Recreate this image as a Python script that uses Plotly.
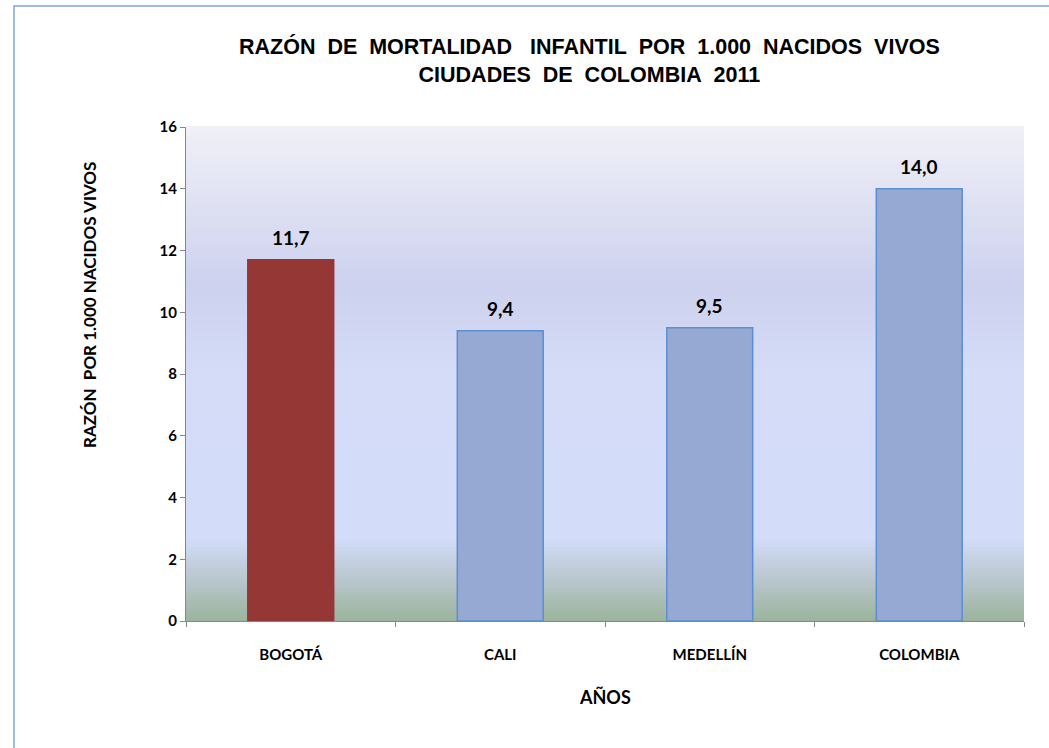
import plotly.graph_objects as go

categories = ["BOGOTÁ", "CALI", "MEDELLÍN", "COLOMBIA"]
values = [11.7, 9.4, 9.5, 14.0]
bar_colors = ["#953735", "#95A9D2", "#95A9D2", "#95A9D2"]
line_colors = ["#953735", "#5B8ED6", "#5B8ED6", "#5B8ED6"]
y_ticks = [0, 2, 4, 6, 8, 10, 12, 14, 16]

LATO = "Lato, Carlito, sans-serif"
TICK_FONT = dict(family=LATO, size=15, color="#000000", weight="bold")

fig = go.Figure()
fig.add_trace(go.Bar(
    x=categories, y=values,
    marker=dict(color=bar_colors, line=dict(color=line_colors, width=1.5)),
    width=0.41,
    hoverinfo="x+y",
))

# background gradient (decoration)
stops = [(0.0, (156, 180, 156)), (0.08, (184, 198, 204)), (0.17, (211, 221, 250)),
         (0.5, (212, 220, 248)), (0.68, (205, 209, 238)), (1.0, (240, 240, 247))]

def col_at(t):
    for (t0, c0), (t1, c1) in zip(stops[:-1], stops[1:]):
        if t0 <= t <= t1:
            f = (t - t0) / (t1 - t0) if t1 > t0 else 0
            return "rgb(%d,%d,%d)" % tuple(round(a + (b - a) * f) for a, b in zip(c0, c1))
    return "rgb(%d,%d,%d)" % stops[-1][1]

N = 120
shapes = []
for i in range(N):
    y0 = i / N
    y1 = (i + 1) / N
    shapes.append(dict(type="rect", xref="x domain", yref="y domain", x0=0, x1=1, y0=y0, y1=y1 + 0.002,
                       fillcolor=col_at((y0 + y1) / 2), line=dict(width=0), layer="below"))

W, H = 1049, 748
ml, mr, mt, mb = 186, 25, 127, 127
pw, ph = W - ml - mr, H - mt - mb

def px_x(px):
    return (px - ml) / pw

def px_y(py):
    return (H - mb - py) / ph

# outer frame
shapes.append(dict(type="rect", xref="paper", yref="paper",
                   x0=px_x(14), x1=px_x(W + 30), y0=px_y(H + 30), y1=px_y(6),
                   line=dict(color="#7FA6D8", width=1.5), fillcolor="rgba(0,0,0,0)", layer="below"))

annotations = [
    dict(x=c, y=v, text=f"{v:.1f}".replace(".", ","), xref="x", yref="y", yanchor="bottom",
         yshift=9, showarrow=False, font=dict(family=LATO, size=19, color="#000000", weight="bold"))
    for c, v in zip(categories, values)
]
annotations += [
    dict(text="RAZÓN  POR 1.000 NACIDOS VIVOS", textangle=-90, xref="paper", yref="paper",
         x=px_x(89), y=px_y(305), xanchor="center", yanchor="middle", showarrow=False,
         font=dict(family=LATO, size=17, color="#000000", weight="bold")),
    dict(text="AÑOS", xref="paper", yref="paper", x=px_x(605), y=px_y(697),
         xanchor="center", yanchor="middle",
         showarrow=False, font=dict(family=LATO, size=18, color="#000000", weight="bold")),
    dict(text="RAZÓN&nbsp; DE&nbsp; MORTALIDAD&nbsp;&nbsp; INFANTIL&nbsp; POR&nbsp; 1.000&nbsp; NACIDOS&nbsp; VIVOS<br>"
              "CIUDADES&nbsp; DE&nbsp; COLOMBIA&nbsp; 2011",
         xref="paper", yref="paper", x=px_x(589), y=px_y(60), xanchor="center", yanchor="middle",
         showarrow=False,
         font=dict(family="Liberation Sans, Arial, sans-serif", size=21.5, color="#000000", weight="bold")),
]

fig.update_layout(
    width=W, height=H,
    margin=dict(l=ml, r=mr, t=mt, b=mb),
    paper_bgcolor="white", plot_bgcolor="rgba(0,0,0,0)",
    separators=",.",
    showlegend=False,
    shapes=shapes,
    annotations=annotations,
    xaxis=dict(
        range=[-0.5, 3.5], showgrid=False, showline=True, linecolor="#868686", linewidth=1,
        ticks="outside", ticklen=5, tickcolor="#868686", tickson="boundaries",
        tickfont=TICK_FONT, zeroline=False, ticklabelstandoff=20,
    ),
    yaxis=dict(
        range=[0, 16], tickvals=y_ticks, showgrid=False, showline=True, linecolor="#868686",
        linewidth=1, ticks="outside", ticklen=5, tickcolor="#868686", tickfont=TICK_FONT,
        zeroline=False, ticklabelstandoff=0,
    ),
)

fig.write_html("out.html", config={"displayModeBar": False},
               post_script="document.body.style.margin='0';document.body.style.overflow='hidden';")
